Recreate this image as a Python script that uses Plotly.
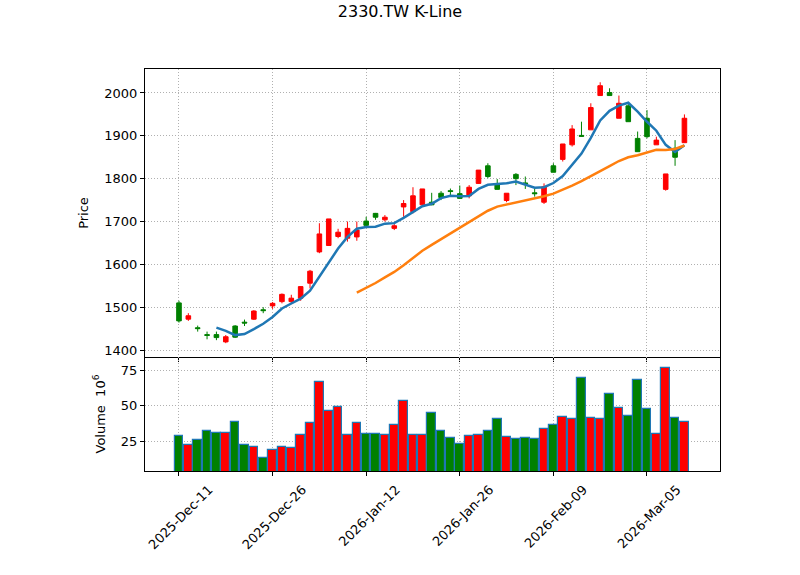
import pandas as pd
import plotly.graph_objects as go
from plotly.subplots import make_subplots

# trading days shown on the chart
dates = [
    "2025-12-11", "2025-12-12", "2025-12-15", "2025-12-16", "2025-12-17",
    "2025-12-18", "2025-12-19", "2025-12-22", "2025-12-23", "2025-12-24",
    "2025-12-26", "2025-12-29", "2025-12-30", "2025-12-31", "2026-01-02",
    "2026-01-05", "2026-01-06", "2026-01-07", "2026-01-08", "2026-01-09",
    "2026-01-12", "2026-01-13", "2026-01-14", "2026-01-15", "2026-01-16",
    "2026-01-19", "2026-01-20", "2026-01-21", "2026-01-22", "2026-01-23",
    "2026-01-26", "2026-01-27", "2026-01-28", "2026-01-29", "2026-01-30",
    "2026-02-02", "2026-02-03", "2026-02-04", "2026-02-05", "2026-02-06",
    "2026-02-09", "2026-02-10", "2026-02-11", "2026-02-23", "2026-02-24",
    "2026-02-25", "2026-02-26", "2026-03-02", "2026-03-03", "2026-03-04",
    "2026-03-05", "2026-03-06", "2026-03-09", "2026-03-10", "2026-03-11",
]

opens = [1510, 1472, 1452, 1436, 1436, 1419, 1456, 1465, 1472, 1494,
         1503, 1513, 1513, 1521, 1556, 1629, 1644, 1665, 1661, 1664,
         1701, 1719, 1704, 1684, 1734, 1723, 1739, 1745, 1766, 1772,
         1765, 1760, 1789, 1830, 1788, 1749, 1810, 1790, 1767, 1745,
         1830, 1845, 1879, 1901, 1914, 1994, 2001, 1941, 1970, 1894,
         1941, 1879, 1775, 1871, 1884]
highs = [1515, 1486, 1457, 1443, 1443, 1435, 1458, 1471, 1493, 1500,
         1512, 1532, 1529, 1549, 1587, 1696, 1706, 1683, 1700, 1700,
         1711, 1720, 1715, 1694, 1750, 1780, 1776, 1767, 1771, 1777,
         1784, 1785, 1820, 1836, 1799, 1766, 1813, 1805, 1776, 1789,
         1836, 1881, 1925, 1933, 1976, 2025, 2011, 1994, 1975, 1910,
         1960, 1898, 1811, 1890, 1950]
lows = [1464, 1468, 1443, 1425, 1423, 1416, 1428, 1456, 1470, 1486,
        1496, 1509, 1509, 1515, 1544, 1626, 1643, 1661, 1653, 1655,
        1688, 1704, 1700, 1680, 1711, 1719, 1738, 1738, 1750, 1760,
        1753, 1754, 1788, 1801, 1775, 1745, 1785, 1776, 1758, 1741,
        1815, 1840, 1875, 1898, 1914, 1994, 1994, 1941, 1933, 1863,
        1894, 1879, 1772, 1830, 1884]
closes = [1468, 1480, 1450, 1434, 1429, 1431, 1430, 1463, 1491, 1492,
          1509, 1530, 1521, 1548, 1584, 1671, 1706, 1675, 1684, 1680,
          1691, 1710, 1710, 1690, 1742, 1760, 1776, 1739, 1756, 1770,
          1754, 1780, 1820, 1805, 1775, 1766, 1800, 1788, 1765, 1781,
          1815, 1881, 1916, 1899, 1966, 2017, 1994, 1976, 1933, 1863,
          1898, 1890, 1811, 1850, 1941]
# volume in millions of shares
volumes = [28.5, 22.2, 25.7, 32.0, 30.6, 30.6, 38.3, 22.2, 20.8, 13.1,
           18.7, 20.8, 20.1, 29.2, 37.6, 67.1, 46.7, 49.5, 29.2, 37.6,
           29.9, 29.9, 29.2, 36.2, 53.7, 29.2, 29.2, 45.3, 32.0, 27.1,
           22.9, 28.5, 29.2, 32.0, 40.4, 27.8, 26.4, 27.1, 26.4, 33.4,
           36.2, 41.8, 40.4, 69.9, 41.1, 40.4, 58.6, 48.8, 43.2, 68.5,
           48.1, 29.9, 76.9, 41.1, 38.3]
mav_periods = [5, 20]

UP, DOWN = "#ff0000", "#008000"

df = pd.DataFrame({"open": opens, "high": highs, "low": lows,
                   "close": closes, "volume": volumes},
                  index=pd.to_datetime(dates))
pos = list(range(len(df)))
tick_pos = pos[::10]
tick_text = [d.strftime("%Y-%b-%d") for d in df.index[::10]]
vol_colors = [UP if c >= o else DOWN for o, c in zip(df["open"], df["close"])]

fig = make_subplots(rows=2, cols=1, shared_xaxes=True,
                    vertical_spacing=0, row_heights=[288, 114])

fig.add_trace(go.Candlestick(
    x=pos, open=df["open"], high=df["high"], low=df["low"], close=df["close"],
    increasing=dict(line=dict(color=UP, width=1), fillcolor=UP),
    decreasing=dict(line=dict(color=DOWN, width=1), fillcolor=DOWN),
    whiskerwidth=0, hoverinfo="skip", showlegend=False), row=1, col=1)

for n, col in zip(mav_periods, ["#1f77b4", "#ff7f0e"]):
    ma = df["close"].rolling(n).mean()
    fig.add_trace(go.Scatter(x=pos, y=ma, mode="lines",
                             line=dict(color=col, width=2.5),
                             hoverinfo="skip", showlegend=False), row=1, col=1)

fig.add_trace(go.Bar(x=pos, y=df["volume"], width=0.92,
                     marker=dict(color=vol_colors,
                                 line=dict(color="#1f77b4", width=1.2)),
                     hoverinfo="skip", showlegend=False), row=2, col=1)

grid = dict(showgrid=True, gridcolor="#b0b0b0", griddash="1px,2px", gridwidth=1,
            showline=True, linecolor="black", linewidth=1, mirror=True,
            zeroline=False, ticks="outside", ticklen=4, tickcolor="black")

fig.update_layout(
    width=800, height=575,
    margin=dict(l=145, r=80, t=69, b=104),
    paper_bgcolor="white", plot_bgcolor="white",
    font=dict(family="DejaVu Sans", size=13, color="black"),
    title=dict(text="2330.TW K-Line", x=0.5, xref="container", xanchor="center",
               y=1 - 11 / 575, yref="container", yanchor="middle",
               font=dict(size=16)),
    bargap=0, boxgap=0.3,
)
fig.update_xaxes(**grid, range=[-3.63, 57.8], tickvals=tick_pos)
fig.update_xaxes(showticklabels=False, rangeslider_visible=False, row=1, col=1)
fig.update_xaxes(ticktext=tick_text, tickangle=-45, ticklabelshift=30,
                 ticklabelstandoff=1, mirror=False, row=2, col=1)
fig.update_yaxes(**grid, title_font=dict(size=13), title_standoff=12)
fig.update_yaxes(range=[1383.7, 2056], dtick=100, title_text="Price",
                 row=1, col=1)
fig.update_yaxes(range=[3.93, 84.6], tickvals=[25, 50, 75],
                 title_text="Volume  10<sup>6</sup>", row=2, col=1)

fig.write_html("out.html", config={"displayModeBar": False},
               post_script="document.body.style.margin='0';")
